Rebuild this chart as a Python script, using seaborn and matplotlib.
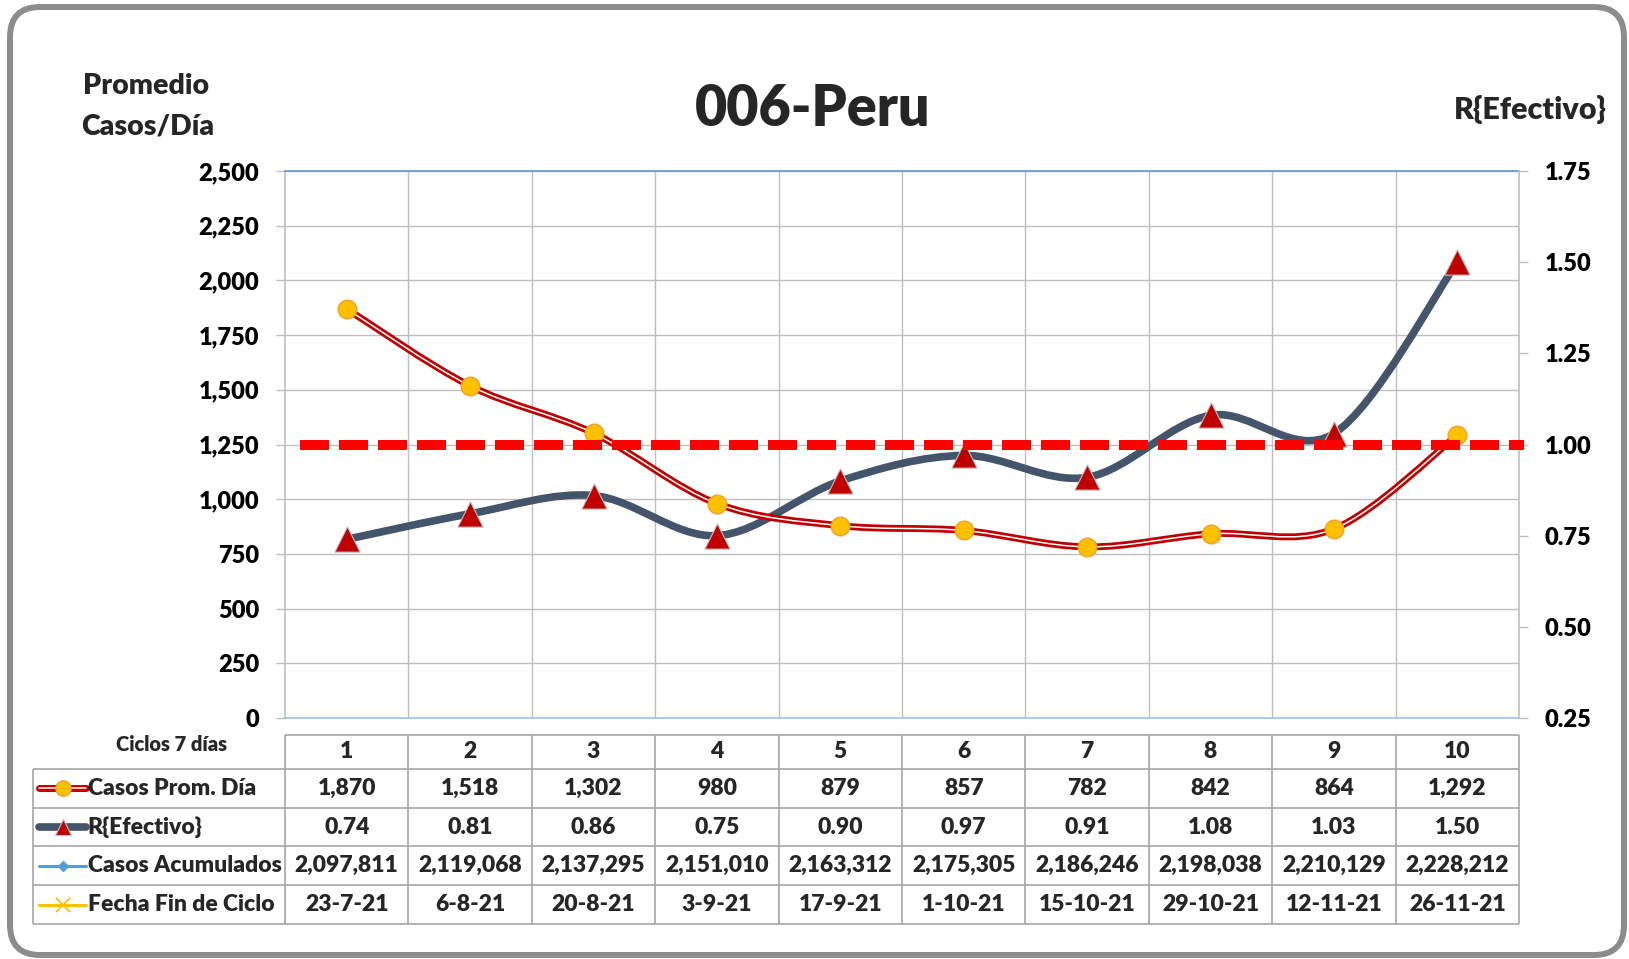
import numpy as np
import matplotlib
matplotlib.use("Agg")
import matplotlib.pyplot as plt
import matplotlib.transforms as mtransforms
import seaborn as sns
from matplotlib.path import Path
from matplotlib.patches import PathPatch, FancyBboxPatch
from matplotlib.ticker import FuncFormatter

# Datos del grafico
ciclos = [1, 2, 3, 4, 5, 6, 7, 8, 9, 10]
casos_prom = [1870, 1518, 1302, 980, 879, 857, 782, 842, 864, 1292]
r_efectivo = [0.74, 0.81, 0.86, 0.75, 0.90, 0.97, 0.91, 1.08, 1.03, 1.50]
casos_acum = [2097811, 2119068, 2137295, 2151010, 2163312, 2175305, 2186246, 2198038, 2210129, 2228212]
fecha_fin = ["23-7-21", "6-8-21", "20-8-21", "3-9-21", "17-9-21", "1-10-21",
             "15-10-21", "29-10-21", "12-11-21", "26-11-21"]
filas = ["Casos Prom. Día", "R{Efectivo}", "Casos Acumulados", "Fecha Fin de Ciclo"]
umbral_r = 1.0

W, H = 1629, 959
ROJO = "#C00000"
PIZARRA = "#44546A"
NARANJA = "#FFC000"
AZUL = "#5B9BD5"
GRIS = "#BFBFBF"
BORDE_TABLA = "#A6A6A6"
PESO = "heavy"

sns.set_theme(style="white")
plt.rcParams["font.family"] = ["Lato", "DejaVu Sans"]
plt.rcParams["font.weight"] = PESO


def smooth_path(xs, ys):
    # curva suavizada tipo Excel (bezier por tramos)
    pts = np.column_stack([xs, ys]).astype(float)
    n = len(pts)
    verts = [pts[0]]
    codes = [Path.MOVETO]
    for i in range(n - 1):
        p0 = pts[i - 1] if i > 0 else pts[i]
        p1, p2 = pts[i], pts[i + 1]
        p3 = pts[i + 2] if i + 2 < n else pts[i + 1]
        verts += [p1 + (p2 - p0) / 6, p2 - (p3 - p1) / 6, p2]
        codes += [Path.CURVE4] * 3
    return Path(verts, codes)


def box(l, t, r, b):
    return [l / W, 1 - b / H, (r - l) / W, (b - t) / H]


fig = plt.figure(figsize=(W / 100, H / 100), dpi=100)

# marco redondeado
fig.patches.append(FancyBboxPatch((0.10, 0.04), 16.14, 9.48,
                                  boxstyle="round,pad=0,rounding_size=0.3",
                                  transform=fig.dpi_scale_trans, fill=False,
                                  edgecolor="#8C8C8C", linewidth=4.3))

# eje principal (rejilla y escala izquierda)
ax = fig.add_axes(box(285, 171, 1519, 718))
ax.set_xlim(0.5, 10.5)
ax.set_ylim(0, 2500)
ax.set_yticks(np.arange(0, 2501, 250))
ax.yaxis.set_major_formatter(FuncFormatter(lambda v, p: f"{v:,.0f}"))
ax.set_xticks([])
ax.set_xticks(np.arange(1.5, 10.5, 1), minor=True)
ax.grid(axis="y", which="major", color=GRIS, lw=1)
ax.grid(axis="x", which="minor", color=GRIS, lw=1)
ax.tick_params(axis="y", left=True, length=6.5, width=1, color=GRIS, pad=12,
               labelsize=17, labelcolor="black", direction="out")
ax.tick_params(axis="x", which="both", bottom=False, labelbottom=False)
ax.spines["left"].set_color(GRIS)
ax.spines["top"].set_color(AZUL)
ax.spines["bottom"].set_color("#9DC3E6")
ax.spines["right"].set_visible(False)
for s in ["left", "top", "bottom"]:
    ax.spines[s].set_linewidth(1.2)

# eje derecho R{Efectivo}
ax2 = ax.twinx()
ax2.set_ylim(0.25, 1.75)
ax2.set_yticks(np.arange(0.25, 1.76, 0.25))
ax2.yaxis.set_major_formatter(FuncFormatter(lambda v, p: f"{v:.2f}"))
ax2.grid(False)
ax2.yaxis.set_tick_params(which="major", right=True, left=False, length=6.5, width=1,
                          color=GRIS, pad=12, labelsize=17, labelcolor="black",
                          direction="out")
for s in ["left", "top", "bottom"]:
    ax2.spines[s].set_visible(False)
ax2.spines["right"].set_color(GRIS)
ax2.spines["right"].set_linewidth(1.2)

ax2.add_patch(PathPatch(smooth_path(ciclos, r_efectivo), fill=False,
                        edgecolor=PIZARRA, lw=5.5, capstyle="round", zorder=3))
sns.scatterplot(x=ciclos, y=r_efectivo, ax=ax2, marker="^", s=330, color=ROJO,
                edgecolor="#BFBFBF", linewidth=0.8, zorder=4, legend=False)

# capa superior: casos promedio
ax3 = ax.twinx()
ax3.set_ylim(0, 2500)
ax3.add_patch(PathPatch(smooth_path(ciclos, casos_prom), fill=False,
                        edgecolor=ROJO, lw=5, capstyle="round", zorder=3))
ax3.add_patch(PathPatch(smooth_path(ciclos, casos_prom), fill=False,
                        edgecolor="white", lw=1.1, capstyle="round", zorder=3))
sns.scatterplot(x=ciclos, y=casos_prom, ax=ax3, marker="o", s=180, color=NARANJA,
                edgecolor="#F0A030", linewidth=1, zorder=4, legend=False)
ax3.set_axis_off()

# linea de referencia R = 1
trans = mtransforms.blended_transform_factory(ax3.transAxes, ax2.transData)
ax3.plot([0.012, 1.004], [umbral_r, umbral_r], transform=trans, color="#FF0000",
         lw=7.2, linestyle=(0, (2.9, 1.0)), dash_capstyle="butt",
         clip_on=False, zorder=6)

# textos
fig.text(813 / W, 1 - 109 / H, "006-Peru", ha="center", va="center", fontsize=40)
fig.text(146 / W, 1 - 86 / H, "Promedio", ha="center", va="center", fontsize=20.5)
fig.text(148 / W, 1 - 126 / H, "Casos/Día", ha="center", va="center", fontsize=20.5)
fig.text(1530 / W, 1 - 110 / H, "R{Efectivo}", ha="center", va="center", fontsize=22)

# tabla de datos
x_left = 0.5 - (285 - 33) / 123.4
top = 4.877
tax = fig.add_axes(box(33, 735, 1519, 924))
tax.set_xlim(x_left, 10.5)
tax.set_ylim(0, top)
tax.set_axis_off()
tax.vlines(np.arange(0.5, 11, 1), 0, top, color=BORDE_TABLA, lw=1.2, clip_on=False)
tax.vlines(x_left, 0, 4, color=BORDE_TABLA, lw=1.2, clip_on=False)
tax.hlines(range(5), x_left, 10.5, color=BORDE_TABLA, lw=1.2, clip_on=False)
tax.hlines(top, 0.5, 10.5, color=BORDE_TABLA, lw=1.2, clip_on=False)

tax.text(-0.416, 4.62, "Ciclos 7 días", ha="center", va="center", fontsize=14.5)
for c in ciclos:
    tax.text(c, 4 + (top - 4) / 2, str(c), ha="center", va="center", fontsize=16.5)

valores = [[f"{v:,}" for v in casos_prom],
           [f"{v:.2f}" for v in r_efectivo],
           [f"{v:,}" for v in casos_acum],
           fecha_fin]
for j, fila in enumerate(valores):
    y = 3.5 - j
    for c, txt in zip(ciclos, fila):
        tax.text(c, y, txt, ha="center", va="center", fontsize=16.5)
    tax.text(-1.10, y, filas[j], ha="left", va="center", fontsize=16.5)

# claves de leyenda
lx = [-1.49, -1.11]
mx = -1.30
tax.plot(lx, [3.5, 3.5], color=ROJO, lw=5, solid_capstyle="round", clip_on=False)
tax.plot(lx, [3.5, 3.5], color="white", lw=1.1, clip_on=False)
tax.plot([mx], [3.5], "o", ms=11, color=NARANJA, mec="#F0A030", clip_on=False)
tax.plot(lx, [2.5, 2.5], color=PIZARRA, lw=5.5, solid_capstyle="round", clip_on=False)
tax.plot([mx], [2.5], "^", ms=11, color=ROJO, mec="#BFBFBF", mew=0.8, clip_on=False)
tax.plot(lx, [1.5, 1.5], color=AZUL, lw=2.2, clip_on=False)
tax.plot([mx], [1.5], "D", ms=5.5, color=AZUL, clip_on=False)
tax.plot(lx, [0.5, 0.5], color=NARANJA, lw=2.2, clip_on=False)
tax.plot([mx], [0.5], "x", ms=10, mew=1.3, color=NARANJA, clip_on=False)

fig.savefig("out.png", dpi=100)
